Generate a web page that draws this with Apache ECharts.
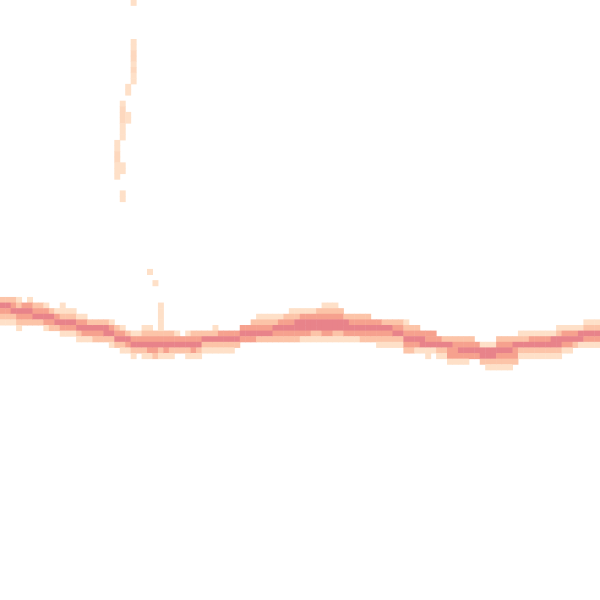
<!DOCTYPE html>
<html><head><meta charset="utf-8">
<script src="https://cdn.jsdelivr.net/npm/echarts@6/dist/echarts.min.js"></script>
<style>html,body{margin:0;padding:0;background:#fff}#c{width:600px;height:600px}</style>
</head><body><div id="c"></div>
<script>
var nCols = 110, nRows = 107;
// first row index of the band in each column
var bandTop = [53,53,53,53,54,53,54,54,54,55, 55,54,55,55,56,56,57,57,57,57, 57,58,58,59,59,59,58,58,59,59,
  59,59,59,60,59,59,59,59,59,58, 59,59,59,59,58,58,57,56,56,56, 56,56,56,55,55,55,55,55,55,54,
  54,54,55,56,56,56,56,56,57,57, 57,57,57,57,57,58,58,59,59,59, 60,60,60,60,60,60,60,61,61,61,
  61,60,60,60,60,59,59,59,59,59, 59,59,58,58,58,58,58,57,57,57];
// intensity levels (1 light .. 4 dark) going down from bandTop
var bandLevels = ["24321","24321","23421","124321","3432","13432","2342","2342","13431","2432",
  "1342","112431","12431","12431","13421","13431","2431","2432","2432","2442",
  "13421","2342","13421","2431","13421","1342","123421","123431","23432","23421",
  "23431","23421","1342","342","13421","23431","23421","2421","2421","12421",
  "3421","3421","3421","342","343","343","2343","12342","12342","12342",
  "12432","13432","23432","123432","124432","134431","134431","134421","234421","1234431",
  "1234431","1234421","234421","24431","23431","23431","23432","23432","3432","34321",
  "24321","24321","23421","23421","123432","23432","23431","3441","33411","3341",
  "3421","2421","24331","23331","23431","23431","2343","343","1442","14421",
  "14421","234321","234321","234321","24332","12421","12421","13421","13421","13421",
  "13421","14421","124421","13431","13431","1342","1441","12431","12431","12431"];
// isolated cells: [column, row, level]
var strayCells = [[24,0,1],[24,7,1],[24,8,1],[24,9,1.3],[24,10,1.3],[24,11,1],[24,12,1.3],[24,13,1],[24,14,1],
  [23,15,1],[23,16,1],[22,18,1],[22,19,1.3],[22,20,1.3],[22,21,1.3],[22,22,1],[22,23,1],[22,24,1],
  [23,20,1],[23,21,1],[21,25,1],[21,26,1],[21,27,1.3],[21,28,1.3],[21,29,1],[21,30,1],[21,31,1],
  [22,29,1],[22,30,1],[22,34,1],[22,35,1],[27,48,1],[28,50,1],
  [29,54,1],[29,55,1],[29,56,1],[29,57,1],[29,58,1]];

var xCats = [], yCats = [];
for (var i = 0; i < nCols; i++) xCats.push(String(i));
for (var j = 0; j < nRows; j++) yCats.push(String(j));
var data = [];
for (var c = 0; c < nCols; c++) {
  var s = bandLevels[c];
  for (var k = 0; k < s.length; k++) data.push([c, bandTop[c] + k, +s[k]]);
}
strayCells.forEach(function (p) { data.push(p); });

var chart = echarts.init(document.getElementById('c'), null, {renderer: 'canvas'});
chart.setOption({
  animation: false,
  backgroundColor: '#ffffff',
  grid: {left: 0, right: 0, top: 0, bottom: 0},
  xAxis: {type: 'category', data: xCats, show: false},
  yAxis: {type: 'category', data: yCats, inverse: true, show: false},
  visualMap: {show: false, type: 'continuous', min: 1, max: 4, dimension: 2,
    inRange: {color: ['#fee0c8', '#fcc4a8', '#f6a18e', '#e8838a']}},
  series: [{type: 'heatmap', data: data, itemStyle: {borderWidth: 0}, emphasis: {disabled: true}}]
});
</script></body></html>
